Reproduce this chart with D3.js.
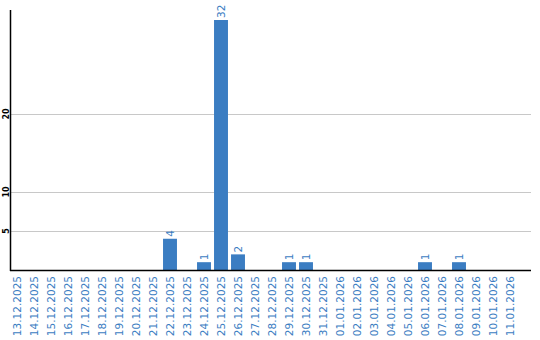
<!DOCTYPE html>
<html><head><meta charset="utf-8">
<script src="https://cdn.jsdelivr.net/npm/d3@7/dist/d3.min.js"></script>
<style>body{margin:0;background:#fff}svg{display:block}</style>
</head><body>
<svg id="c" width="540" height="340"></svg>
<script>
const categories = ["13.12.2025","14.12.2025","15.12.2025","16.12.2025","17.12.2025","18.12.2025","19.12.2025","20.12.2025","21.12.2025","22.12.2025","23.12.2025","24.12.2025","25.12.2025","26.12.2025","27.12.2025","28.12.2025","29.12.2025","30.12.2025","31.12.2025","01.01.2026","02.01.2026","03.01.2026","04.01.2026","05.01.2026","06.01.2026","07.01.2026","08.01.2026","09.01.2026","10.01.2026","11.01.2026"];
const values = [0,0,0,0,0,0,0,0,0,4,0,1,32,2,0,0,1,1,0,0,0,0,0,0,1,0,1,0,0,0];
const yTicks = [5,10,20];

const svg = d3.select("#c");
const blue = "#3b7dc2";
const x = d3.scaleBand().domain(categories).range([8.5, 518.5]).paddingInner(0.18).paddingOuter(0.09);
const y = d3.scaleLinear().domain([0, d3.max(values)*1.04]).range([270, 10]);

// grid
svg.append("g").selectAll("line").data(yTicks).join("line")
  .attr("x1", 11).attr("x2", 531)
  .attr("y1", d => Math.round(y(d))+0.5).attr("y2", d => Math.round(y(d))+0.5)
  .attr("stroke", "#c8c8c8").attr("stroke-width", 1);

// y tick labels
svg.append("g").selectAll("text").data(yTicks).join("text")
  .attr("transform", d => `translate(9,${Math.round(y(d))}) rotate(-90)`)
  .attr("text-anchor", "middle")
  .attr("font-family", "DejaVu Sans, sans-serif").attr("font-size", 8).attr("font-weight", "bold")
  .attr("fill", "#000").text(d => d);

// bars
const bw = x.bandwidth();
svg.append("g").selectAll("rect").data(values.map((v,i)=>({c:categories[i],v})).filter(d=>d.v>0)).join("rect")
  .attr("x", d => x(d.c)).attr("width", bw)
  .attr("y", d => y(d.v)).attr("height", d => y(0) - y(d.v))
  .attr("fill", blue);

// value labels
svg.append("g").selectAll("text").data(values.map((v,i)=>({c:categories[i],v})).filter(d=>d.v>0)).join("text")
  .attr("transform", d => `translate(${x(d.c)+bw/2+4},${y(d.v)-2}) rotate(-90)`)
  .attr("font-family", "DejaVu Sans, sans-serif").attr("font-size", 10.5)
  .attr("fill", blue).text(d => d.v);

// axes lines
svg.append("line").attr("x1", 10.5).attr("x2", 10.5).attr("y1", 10).attr("y2", 271).attr("stroke", "#000").attr("stroke-width", 1.5);
svg.append("line").attr("x1", 10).attr("x2", 531).attr("y1", 270.5).attr("y2", 270.5).attr("stroke", "#000").attr("stroke-width", 1.5);

// x labels
svg.append("g").selectAll("text").data(categories).join("text")
  .attr("transform", d => `translate(${x(d)+bw/2+4},276) rotate(-90)`)
  .attr("text-anchor", "end")
  .attr("font-family", "DejaVu Sans, sans-serif").attr("font-size", 10.5)
  .attr("fill", blue).text(d => d);
</script>
</body></html>
